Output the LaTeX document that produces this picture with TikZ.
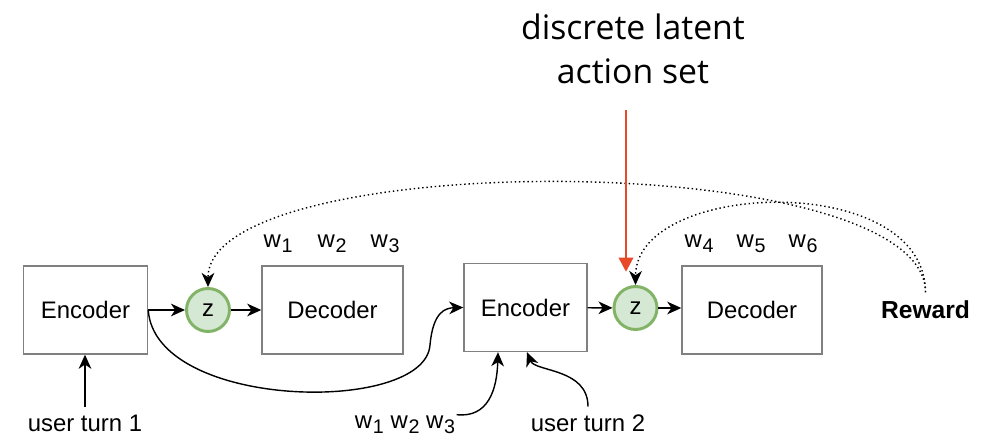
\documentclass[tikz,border=0pt]{standalone}
\usepackage{fontspec}
\setmainfont{Liberation Sans}
\newfontfamily\notefont{Open Sans}
\usetikzlibrary{arrows.meta,positioning,calc}
\definecolor{boxgray}{RGB}{128,128,128}
\definecolor{zfill}{RGB}{213,232,212}
\definecolor{zline}{RGB}{130,179,102}
\definecolor{actred}{RGB}{232,74,40}
\newcommand{\wsub}[1]{w\kern0.5pt\raisebox{-3pt}{\fontsize{14}{14}\selectfont #1}}

\begin{document}
\begin{tikzpicture}[x=0.025cm, y=-0.025cm,
    block/.style={draw=boxgray, line width=1pt, minimum height=2.2cm, font=\fontsize{17}{20}\selectfont},
    latent/.style={circle, draw=zline, fill=zfill, line width=2.1pt, minimum size=1.075cm, inner sep=0pt, font=\fontsize{17}{20}\selectfont},
    lbl/.style={inner sep=6pt, font=\fontsize{17}{20}\selectfont},
    flow/.style={-{Stealth[length=10pt,width=9pt,inset=3pt]}, line width=1pt},
    hint/.style={flow, dotted}]
    \useasboundingbox (0,0) rectangle (981,438);

    % First turn
    \node[block, minimum width=3.1cm] (enc1) at (85.5,310) {Encoder};
    \node[latent] (z1) at (208,310) {z};
    \node[block, minimum width=3.525cm] (dec1) at (332.5,310) {Decoder};

    % Second turn
    \node[block, minimum width=3.075cm] (enc2) at (525.5,307.5) {Encoder};
    \node[latent] (z2) at (635.5,308) {z};
    \node[block, minimum width=3.5cm] (dec2) at (752,310) {Decoder};

    % Output words
    \foreach \i/\x in {1/278,2/332,3/385,4/699,5/751,6/803}
        \node[lbl, inner sep=0pt, anchor=base] (w\i) at (\x,248) {\wsub{\i}};

    % Inputs and reward
    \node[lbl, anchor=base] (ut1) at (85,432) {user turn 1};
    \node[lbl, inner sep=1pt, anchor=base] (wb) at (405,429) {\wsub{1} \wsub{2} \wsub{3}};
    \node[lbl, anchor=base] (ut2) at (588,432) {user turn 2};
    \node[lbl, font=\fontsize{17.5}{20}\selectfont\bfseries] (reward) at (925.5,310) {Reward};

    % Latent action label
    \node[font=\notefont\fontsize{24}{31}\selectfont, align=center, inner sep=0pt] (act) at (633,49) {discrete latent\\action set};
    \coordinate (acttop) at (626,110);

    % Arrows
    \draw[flow] (enc1) -- (z1);
    \draw[flow] (z1) -- (dec1);
    \draw[flow] (enc2) -- (z2);
    \draw[flow] (z2) -- (z2 -| dec2.west);
    \draw[flow] (ut1.north) -- (ut1.north |- enc1.south);
    \draw[flow] (enc1.east) .. controls (155,410) and (425,415) .. (430,345)
        .. controls (433,312) and (445,308) .. (enc2.west);
    \draw[flow] (wb.north east) .. controls (488,418) and (497,390) .. ($(enc2.south)+(-27.5,0)$);
    \draw[flow] (ut2.north) .. controls (588,368) and (535,372) .. ($(enc2.south)+(1.5,0)$);

    % Reward feedback
    \draw[hint] (reward.north) .. controls (925,147) and (208,147) .. (z1.north);
    \draw[hint] (reward.north) .. controls (925,170) and (636,180) .. (z2.north);

    \draw[actred, line width=2pt, -{Triangle[length=10pt,width=10pt]}, shorten >=0.33cm] (acttop) -- (acttop |- z2.north);
\end{tikzpicture}
\end{document}
